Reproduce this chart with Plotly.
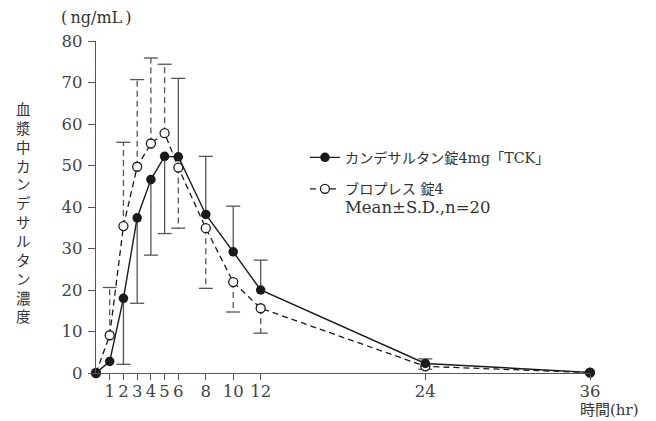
import plotly.graph_objects as go

# ---- data ----
time_hr = [0, 1, 2, 3, 4, 5, 6, 8, 10, 12, 24, 36]
x_tick_labels = ["1", "2", "3", "4", "5", "6", "8", "10", "12", "24", "36"]
x_tick_vals = [1, 2, 3, 4, 5, 6, 8, 10, 12, 24, 36]

tck_name = "カンデサルタン錠4mg「TCK」"
tck_mean = [0, 2.8, 18.0, 37.4, 46.6, 52.2, 52.1, 38.2, 29.2, 20.0, 2.3, 0.15]
tck_sd_up = [0, 0, 0, 0, 0, 0, 18.9, 14.0, 11.0, 7.2, 1.1, 0]
tck_sd_down = [0, 0, 15.9, 20.6, 18.2, 18.6, 0, 0, 0, 0, 0, 0]

blo_name = "ブロプレス 錠4"
blo_mean = [0, 9.1, 35.4, 49.7, 55.3, 57.8, 49.5, 34.9, 21.9, 15.6, 1.6, 0.1]
blo_sd_up = [0, 11.5, 20.2, 21.0, 20.6, 16.6, 0, 0, 0, 0, 0, 0]
blo_sd_down = [0, 0, 0, 0, 0, 0, 14.6, 14.5, 7.2, 6.0, 0.7, 0]

note_text = "Mean±S.D.,n=20"
y_title = "血漿中カンデサルタン濃度"
y_unit = "(\u2009ng/mL\u2009)"
x_unit = "時間(hr)"

LINE = "#1a1a1a"
BAR = "#555555"
AXIS = "#555555"
TXT = "#333333"


def stems(means, up, down):
    xs, ys, cx, cy = [], [], [], []
    for t, m, u, d in zip(time_hr, means, up, down):
        if u > 0:
            xs += [t, t, None]
            ys += [m, m + u, None]
            cx.append(t)
            cy.append(m + u)
        if d > 0:
            xs += [t, t, None]
            ys += [m, m - d, None]
            cx.append(t)
            cy.append(m - d)
    return xs, ys, cx, cy


fig = go.Figure()

# error bars: TCK (solid)
sx, sy, cx, cy = stems(tck_mean, tck_sd_up, tck_sd_down)
fig.add_trace(go.Scatter(x=sx, y=sy, mode="lines", line=dict(color=BAR, width=1.3),
                         showlegend=False, hoverinfo="skip", cliponaxis=False))
fig.add_trace(go.Scatter(x=cx, y=cy, mode="markers",
                         marker=dict(symbol="line-ew", size=10, line=dict(color=BAR, width=1.3)),
                         showlegend=False, hoverinfo="skip", cliponaxis=False))

# error bars: Blopress (dashed)
sx, sy, cx, cy = stems(blo_mean, blo_sd_up, blo_sd_down)
fig.add_trace(go.Scatter(x=sx, y=sy, mode="lines", line=dict(color=BAR, width=1.3, dash="6px,4px"),
                         showlegend=False, hoverinfo="skip", cliponaxis=False))
fig.add_trace(go.Scatter(x=cx, y=cy, mode="markers",
                         marker=dict(symbol="line-ew", size=10, line=dict(color=BAR, width=1.3)),
                         showlegend=False, hoverinfo="skip", cliponaxis=False))

# main series
fig.add_trace(go.Scatter(
    x=time_hr, y=blo_mean, mode="lines+markers",
    name=blo_name + "<br><span style=\"font-size:16.5px\">" + note_text + "</span>",
    legendgroup="b", legendrank=2,
    line=dict(color=LINE, width=1.3, dash="6px,4px"),
    marker=dict(symbol="circle", size=9, color="white", line=dict(color=LINE, width=1.3)),
    cliponaxis=False))
fig.add_trace(go.Scatter(
    x=time_hr, y=tck_mean, mode="lines+markers",
    name=tck_name,
    legendgroup="a", legendrank=1,
    line=dict(color=LINE, width=1.4),
    marker=dict(symbol="circle", size=9.5, color=LINE, line=dict(color=LINE, width=0)),
    cliponaxis=False))

fig.update_layout(
    width=656, height=421,
    margin=dict(l=96, r=66, t=41, b=48),
    plot_bgcolor="white", paper_bgcolor="white",
    font=dict(family="DejaVu Serif, Noto Sans CJK JP", size=16, color=TXT),
    showlegend=True,
    legend=dict(x=0.423, y=0.697, xanchor="left", yanchor="top",
                bgcolor="rgba(0,0,0,0)", traceorder="grouped", tracegroupgap=10,
                valign="top",
                font=dict(family="DejaVu Serif, Noto Sans CJK JP", size=14.2, color=TXT)),
    xaxis=dict(range=[0, 36], tickvals=x_tick_vals, ticktext=x_tick_labels,
               ticks="outside", ticklen=6, tickwidth=1.2, tickcolor=AXIS,
               ticklabelstandoff=-3,
               showline=True, linecolor=AXIS, linewidth=1.3,
               showgrid=False, zeroline=False,
               tickfont=dict(family="DejaVu Serif", size=16.5, color="#444")),
    yaxis=dict(range=[0, 80], dtick=10, tick0=0,
               ticks="outside", ticklen=7, tickwidth=1.2, tickcolor=AXIS,
               ticklabelstandoff=2,
               showline=True, linecolor=AXIS, linewidth=1.3,
               showgrid=False, zeroline=False,
               tickfont=dict(family="DejaVu Serif", size=16.5, color="#444")),
)

fig.add_annotation(text="<br>".join(list(y_title)), xref="paper", yref="paper",
                   x=-0.146, y=0.485, xanchor="center", yanchor="middle", showarrow=False,
                   font=dict(family="Noto Sans CJK JP", size=14.5, color=TXT))
fig.add_annotation(text=y_unit, xref="paper", yref="paper",
                   x=0.0, y=1.071, xanchor="center", yanchor="middle", showarrow=False,
                   font=dict(family="DejaVu Serif", size=16, color=TXT))
fig.add_annotation(text=x_unit, xref="paper", yref="paper",
                   x=1.04, y=-0.112, xanchor="center", yanchor="middle", showarrow=False,
                   font=dict(family="DejaVu Serif, Noto Sans CJK JP", size=15, color=TXT))

fig.write_html("out.html", config={"displayModeBar": False},
               post_script="document.body.style.margin='0px';")
